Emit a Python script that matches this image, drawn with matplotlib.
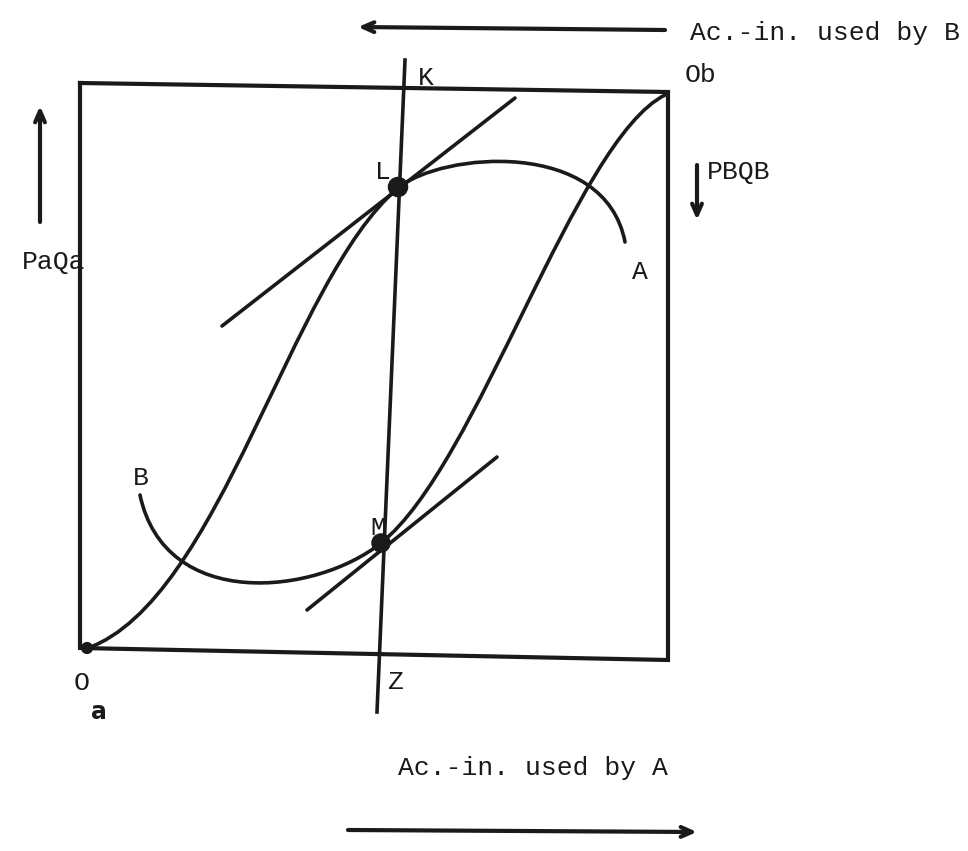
import matplotlib
matplotlib.use("Agg")
import matplotlib.pyplot as plt
from matplotlib.path import Path
from matplotlib.patches import PathPatch

# diagram is drawn in image-pixel space (x right, y down)
box_x = [80, 668, 668, 80, 80]
box_y = [83, 92, 660, 648, 83]

# curve A: Oa -> L (S-shape), then the hump ending near label A
curve_a_pts = [(88, 648), (220, 600), (290, 280), (398, 188),
               (442, 152), (605, 138), (625, 242)]
# curve B: Ob -> M (S-shape), then the U ending near label B
curve_b_pts = [(665, 95), (575, 140), (478, 466), (381, 543),
               (316, 595), (165, 612), (140, 495)]

kz_x = [405, 377]
kz_y = [60, 712]
tan_l_x = [222, 515]
tan_l_y = [326, 98]
tan_m_x = [307, 497]
tan_m_y = [610, 457]

dot_x = [398, 381, 87]
dot_y = [187, 543, 648]
dot_size = [190, 170, 60]

labels = [
    ("K", 418, 78), ("Ob", 685, 75), ("L", 375, 172), ("PBQB", 707, 172),
    ("PaQa", 22, 262), ("A", 632, 272), ("B", 133, 478), ("M", 370, 528),
    ("Z", 388, 682), ("O", 74, 683),
    ("Ac.-in. used by B", 690, 33), ("Ac.-in. used by A", 398, 768),
]

# arrows: (x_tail, y_tail, x_head, y_head)
arrows = [(665, 30, 358, 27), (348, 830, 697, 832),
          (40, 222, 40, 106), (697, 165, 697, 220)]

fig = plt.figure(figsize=(9.68, 8.51), dpi=100)
ax = fig.add_axes([0, 0, 1, 1])
ax.set_xlim(0, 968)
ax.set_ylim(851, 0)
ax.axis("off")

ink = "#1a1a1a"
ax.plot(box_x, box_y, color=ink, lw=3.0, solid_joinstyle="miter")


def bezier(pts):
    codes = [Path.MOVETO] + [Path.CURVE4] * (len(pts) - 1)
    return PathPatch(Path(pts, codes), fill=False, lw=2.6, edgecolor=ink,
                     capstyle="round")


ax.add_patch(bezier(curve_a_pts))
ax.add_patch(bezier(curve_b_pts))

ax.plot(kz_x, kz_y, color=ink, lw=2.6)
ax.plot(tan_l_x, tan_l_y, color=ink, lw=2.6, solid_capstyle="round")
ax.plot(tan_m_x, tan_m_y, color=ink, lw=2.6, solid_capstyle="round")
ax.scatter(dot_x, dot_y, s=dot_size, color=ink, zorder=5)

for txt, x, y in labels:
    ax.text(x, y, txt, fontsize=19, family="Liberation Mono", color=ink,
            ha="left", va="center")
ax.text(91, 712, "a", fontsize=17, family="DejaVu Sans", weight="bold",
        color=ink, ha="left", va="center")

for x0, y0, x1, y1 in arrows:
    ax.annotate("", xy=(x1, y1), xytext=(x0, y0),
                arrowprops=dict(arrowstyle="->,head_length=0.8,head_width=0.35",
                                lw=3.0, color=ink, shrinkA=0, shrinkB=0))

fig.savefig("out.png", dpi=100)
